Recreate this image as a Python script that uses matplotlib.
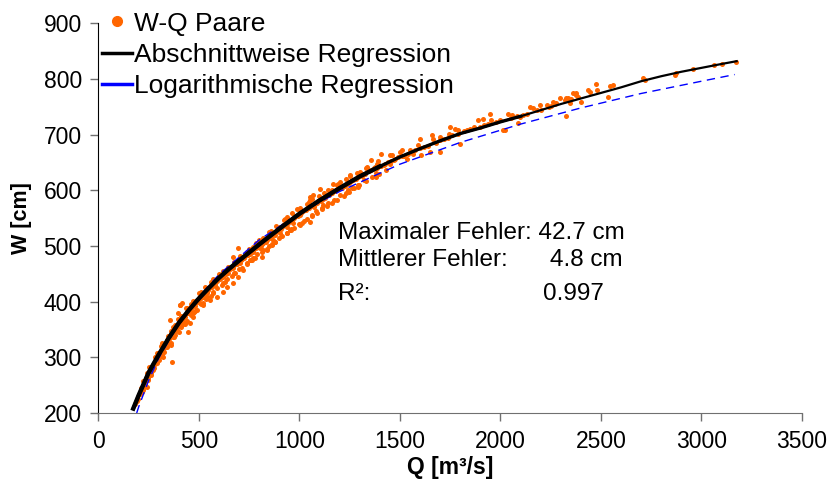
import matplotlib
matplotlib.use('Agg')
from matplotlib import pyplot as plt
from matplotlib.lines import Line2D
import numpy as np

plt.rcParams['font.family'] = ['Liberation Sans', 'DejaVu Sans']

# W-Q pairs (discharge Q in m3/s, water level W in cm)
q_pts = [182, 206, 231, 248, 240, 273, 289, 364, 322, 339, 372, 389, 356, 397, 405, 414,
         447, 455, 471, 488, 505, 521, 546, 571, 439, 306, 256, 281, 223, 439, 488, 538,
         347, 314, 380,
         1052, 1002, 969, 936, 903, 861, 836, 812, 770, 753, 720, 695, 670, 637, 621, 588,
         554, 521, 695, 670, 770, 936, 1002, 1052, 952, 869, 803, 654, 604, 571, 538, 753,
         903, 836,
         1408, 1450, 1499, 1549, 1590, 1358, 1375, 1383, 1334, 1300, 1251, 1242, 1292, 1201,
         1168, 1160, 1126, 1101, 1068, 1052, 1035, 1118, 1450, 1533, 1565,
         1657, 1665, 1698, 1745, 1773, 1789, 1798, 1698, 1648, 1607, 1831, 1889, 1913, 1950,
         1897, 1955, 2013, 2038, 2055, 2088, 2096, 2146, 2162, 2195, 2204, 2229, 2262, 2278,
         2320, 2328, 2345, 2361, 2378, 1599, 1749, 1508, 2021,
         2298, 2325, 2336, 2374, 2386, 2403, 2436, 2444, 2477, 2480, 2535, 2544, 2560,
         2709, 2718, 2875, 2867, 2958, 3061, 3104, 3173,
         190, 215, 235, 265, 285, 320, 335, 375, 395, 425, 465, 480, 515, 530, 560, 580,
         615, 640, 660, 685, 710, 730, 760, 785, 820, 845, 875, 890, 920, 950, 980, 1010,
         1040, 1075, 1090, 1130, 1150, 1180, 1215, 1235, 1265, 1280, 1320, 1345, 1370, 1420,
         1440, 1470, 1520, 1560, 1620, 1680, 1720, 1760, 1850, 1980, 2110, 2240,
         230, 260, 300, 340, 380, 420, 470, 520, 570, 620, 680, 740, 790, 850, 900, 960,
         1020, 1080, 1140, 1200, 1260, 1320, 1380,
         210, 240, 280, 310, 360, 410, 460, 510, 560, 620, 680, 740, 800, 860, 930, 990,
         1060, 1120, 1190, 1250, 1330, 1390, 1460, 406,
         195, 205, 218, 225, 245, 255, 270, 292, 298, 312, 328, 345, 352, 368, 385, 392,
         405, 418, 432, 445, 458, 462, 478, 492, 500, 512, 525, 542, 550, 565, 578, 590,
         605, 618, 632, 645, 652, 668, 675, 690, 702, 715, 722, 745, 752, 768, 775, 795,
         808, 815, 832, 855, 862, 880, 895, 908, 915, 935, 945, 962, 975, 995, 1005, 1015,
         1030, 1048, 1058, 1070, 1085, 1105, 1115, 1125, 1145, 1160, 1175, 1190, 1210, 1225,
         1245, 1255, 1275, 1290, 1310, 1325, 1340, 1355, 1365, 1385, 1405, 1425, 1455, 1475,
         1490, 1510, 1540, 1575, 1600, 1640, 1700, 1740, 1790, 1820, 1870, 1920, 1940, 2000,
         2050, 2080, 2130, 2180, 2250, 2270, 2350,
         280, 320, 360, 400, 440, 480, 540, 590, 640, 700, 760, 820, 880, 940, 1000, 1060,
         1110, 1170, 1230, 1290,
         215, 228, 262, 276, 310, 326, 362, 378, 412, 428, 462, 476, 512, 536, 558, 572,
         612, 628, 662, 676, 712, 738, 762, 778, 812, 838, 862, 878, 912, 938, 958, 972,
         1012, 1038, 1062, 1088, 1112, 1138, 1162, 1188, 1222, 1248, 1272, 1298, 1330, 1360,
         1395, 1430,
         222, 252, 292, 318, 344, 372, 398, 436, 468, 498, 532, 568, 598, 642, 672, 705,
         748, 782, 818, 848, 885, 925, 965, 1002, 1045, 1095, 1140, 1185, 1232, 1285, 1338,
         1385]
w_pts = [217, 235, 253, 259, 247, 277, 289, 292, 319, 331, 337, 349, 367, 379, 394, 397,
         346, 361, 373, 385, 397, 409, 421, 430, 379, 310, 271, 289, 241, 388, 403, 424,
         322, 304, 358,
         588, 564, 541, 534, 523, 502, 493, 481, 478, 475, 457, 445, 433, 427, 418, 409,
         403, 394, 497, 481, 499, 552, 537, 543, 529, 511, 496, 460, 445, 433, 415, 487,
         534, 511,
         666, 663, 669, 672, 681, 654, 642, 624, 642, 633, 627, 600, 606, 615,
         612, 600, 588, 603, 591, 582, 576, 573, 648, 657, 666,
         699, 693, 696, 702, 711, 708, 684, 669, 669, 663, 708, 726, 729, 738,
         714, 726, 708, 738, 735, 721, 732, 750, 747, 753, 744, 753, 759, 756,
         762, 733, 756, 774, 771, 693, 714, 672, 708,
         765, 766, 766, 775, 768, 759, 780, 777, 791, 781, 768, 787, 790,
         801, 798, 811, 808, 818, 825, 827, 831,
         222, 246, 262, 283, 296, 318, 324, 346, 356, 372, 390, 398, 410, 417, 428, 434,
         446, 455, 460, 468, 475, 482, 490, 497, 506, 515, 523, 527, 537, 545, 553, 560,
         568, 576, 580, 590, 593, 601, 607, 612, 619, 621, 630, 635, 640, 646,
         650, 655, 662, 668, 678, 685, 692, 700, 710, 722, 736, 750,
         248, 268, 296, 318, 340, 360, 380, 398, 418, 433, 452, 470, 486, 500, 515, 530,
         545, 562, 578, 592, 604, 618, 632,
         245, 272, 300, 320, 348, 374, 396, 418, 436, 455, 472, 490, 510, 527, 548, 566,
         584, 596, 612, 626, 640, 652, 664, 394,
         225, 236, 243, 250, 262, 270, 282, 295, 303, 306, 316, 325, 333, 338, 347, 355,
         360, 366, 372, 380, 382, 388, 392, 400, 404, 406, 412, 420, 424, 426, 430, 438,
         440, 444, 450, 452, 458, 460, 466, 468, 470, 476, 479, 484, 486, 490, 494, 498,
         500, 504, 508, 514, 518, 520, 528, 530, 534, 538, 542, 546, 550, 554, 556, 562,
         564, 568, 572, 570, 578, 580, 585, 586, 592, 596, 598, 602, 604, 608,
         613, 617, 620, 624, 626, 629, 634, 636, 638, 640, 644, 648, 652, 657,
         660, 662, 666, 672, 676, 680, 690, 694, 702, 706, 714, 718, 720, 726,
         730, 734, 738, 745, 752, 755, 764,
         288, 300, 322, 345, 365, 383, 408, 425, 440, 458, 474, 492, 508, 524, 540, 556,
         568, 582, 596, 610,
         238, 246, 272, 280, 302, 310, 326, 336, 354, 360, 376, 382, 396, 404, 410, 416,
         430, 436, 447, 452, 461, 468, 474, 478, 490, 494, 503, 508, 518, 524, 528, 533,
         542, 549, 554, 560, 566, 572, 578, 583, 590, 597, 604, 610, 617, 624,
         630, 636,
         258, 282, 307, 325, 338, 355, 369, 388, 402, 416, 427, 440, 450, 463, 472, 482,
         495, 505, 515, 525, 536, 547, 559, 568, 579, 590, 601, 610, 620, 631, 641,
         648]

# piecewise regression curve
q_pw = [173, 200, 250, 300, 350, 400, 450, 500, 550, 600, 650, 700, 800, 900, 1000, 1100,
        1200, 1300, 1400, 1500, 1600, 1700, 1800, 1900, 2000, 2100, 2200, 2300, 2400,
        2500, 2600, 2700, 2800, 2900, 3000, 3100, 3175]
w_pw = [208, 232, 273, 305, 335, 362, 385, 406, 425, 443, 459, 474, 503, 531, 558, 582,
        604, 625, 643, 660, 675, 689, 702, 712, 723, 733, 744, 755, 765,
        775, 785, 796, 805, 813, 820, 827, 832]

# logarithmic regression curve
q_log = [190, 200, 250, 300, 400, 500, 600, 800, 1000, 1200, 1500, 1800, 2100, 2400,
         2700, 3000, 3165]
w_log = [200, 211, 259, 299, 361, 409, 449, 511, 559, 598, 647, 686, 719, 748,
         774, 796, 808]

orange = '#FF6600'

fig = plt.figure(figsize=(8.34, 4.86), dpi=100)
ax = fig.add_axes([0.1181, 0.1502, 0.8435, 0.8018])

ax.scatter(q_pts, w_pts, s=13, color=orange, linewidths=0, zorder=2)
ax.plot(q_log, w_log, color='#0000FF', lw=1.0, dashes=(6, 4), zorder=3)
ax.plot(q_pw, w_pw, color='black', lw=1.6, zorder=4)
ax.plot(q_pw[:26], w_pw[:26], color='black', lw=2.4, zorder=4)
ax.plot(q_pw[:19], w_pw[:19], color='black', lw=3.2, zorder=4)

ax.set_xlim(0, 3500)
ax.set_ylim(200, 900)
ax.set_xticks(np.arange(0, 3501, 500))
ax.set_yticks(np.arange(200, 901, 100))
for s in ['top', 'right']:
    ax.spines[s].set_visible(False)
ax.spines['left'].set_color('black')
ax.spines['bottom'].set_color('#707070')
ax.tick_params(axis='both', direction='out', length=6, width=1, color='#707070',
               labelsize=16.5, pad=6)

ax.set_xlabel('Q [m³/s]', fontsize=16.5, fontweight='bold')
ax.set_ylabel('W [cm]', fontsize=15.5, fontweight='bold')
ax.xaxis.set_label_coords(0.5, -0.11)
ax.yaxis.set_label_coords(-0.094, 0.5)

handles = [
    Line2D([], [], marker='o', ls='none', color=orange, markersize=7),
    Line2D([], [], color='black', lw=2.5),
    Line2D([], [], color='#0000FF', lw=2.5),
]
labels = ['W-Q Paare', 'Abschnittweise Regression', 'Logarithmische Regression']
ax.legend(handles, labels, loc='upper left', bbox_to_anchor=(0.005, 1.03),
          frameon=False, fontsize=19, handlelength=1.15, handletextpad=0.08,
          labelspacing=0.28, borderpad=0, borderaxespad=0)

ax.text(0.340, 0.462, 'Maximaler Fehler: 42.7 cm', transform=ax.transAxes,
        fontsize=17.5, va='center', ha='left')
ax.text(0.340, 0.393, 'Mittlerer Fehler:', transform=ax.transAxes,
        fontsize=17.5, va='center', ha='left')
ax.text(0.642, 0.393, '4.8 cm', transform=ax.transAxes,
        fontsize=17.5, va='center', ha='left')
ax.text(0.340, 0.305, 'R²:', transform=ax.transAxes,
        fontsize=17.5, va='center', ha='left')
ax.text(0.632, 0.305, '0.997', transform=ax.transAxes,
        fontsize=17.5, va='center', ha='left')

fig.savefig('out.png', dpi=100)
